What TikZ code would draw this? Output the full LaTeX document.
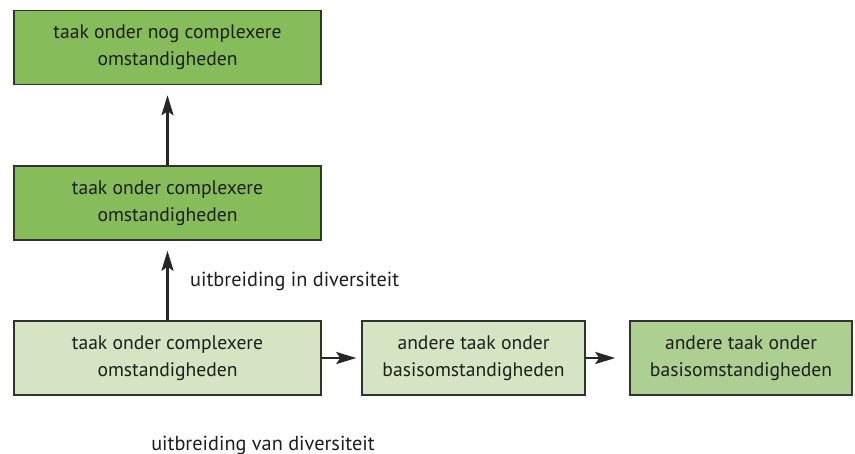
\documentclass[tikz,border=0pt]{standalone}
\usepackage{fontspec}
\setmainfont{PT Sans}
\usetikzlibrary{arrows.meta}
\definecolor{darkgr}{RGB}{134,188,89}
\definecolor{lightgr}{RGB}{213,228,194}
\definecolor{midgr}{RGB}{173,207,146}
\definecolor{edge}{RGB}{50,50,50}
\definecolor{txt}{RGB}{30,30,30}
\begin{document}
\begin{tikzpicture}[x=1pt,y=-1pt,
  box/.style={draw=edge,line width=1.5pt,minimum height=74pt,align=center,
    inner sep=0pt,text=txt,font=\fontsize{19.6}{27}\selectfont},
  conn/.style={line width=2.5pt,draw=black!85,-{Stealth[length=20pt,width=12pt,inset=4pt]}},
  lbl/.style={text=txt,font=\fontsize{20.3}{27}\selectfont,inner sep=0pt}]
\useasboundingbox (0,0) rectangle (855,454);
\node[box,fill=darkgr,minimum width=307pt] (a) at (167.5,47.5) {taak onder nog complexere\\omstandigheden};
\node[box,fill=darkgr,minimum width=307pt] (b) at (167.5,203) {taak onder complexere\\omstandigheden};
\node[box,fill=lightgr,minimum width=307pt] (c) at (167.5,358) {taak onder complexere\\omstandigheden};
\node[box,fill=lightgr,minimum width=223pt] (d) at (473.5,358) {andere taak onder\\basisomstandigheden};
\node[box,fill=midgr,minimum width=222pt] (e) at (741,358) {andere taak onder\\basisomstandigheden};
\draw[conn,shorten >=10pt] (b.north) -- (a.south);
\draw[conn,shorten >=10pt] (c.north) -- (b.south);
\draw[conn,shorten >=5pt] (c.east) -- (d.west);
\draw[conn,shorten >=14pt] (d.east) -- (e.west);
\node[lbl,anchor=west] (l1) at (190,281) {uitbreiding in diversiteit};
\node[lbl] (l2) at (263,445) {uitbreiding van diversiteit};
\end{tikzpicture}
\end{document}
